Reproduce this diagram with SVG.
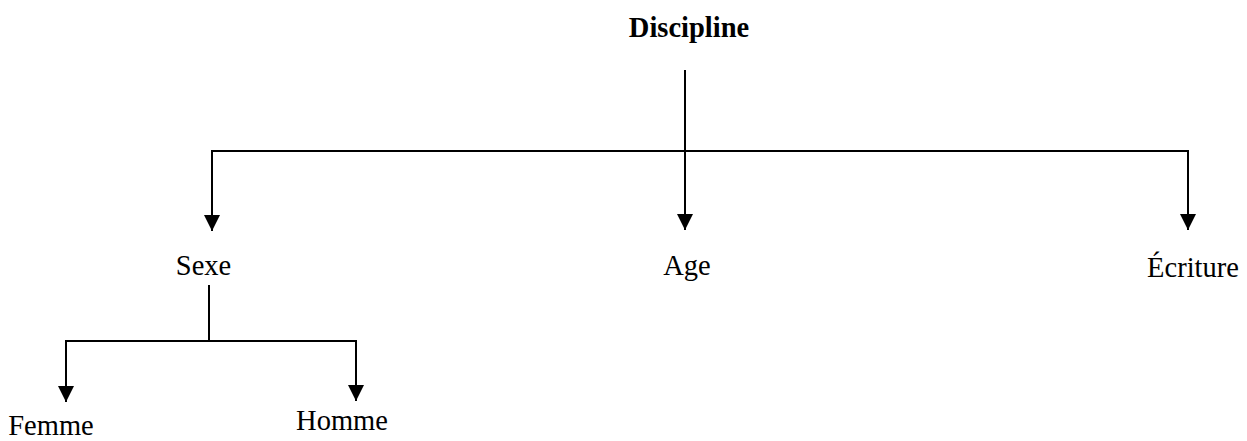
<svg xmlns="http://www.w3.org/2000/svg" width="1247" height="441" viewBox="0 0 1247 441">
  <style>
    .lbl { font-family: "Liberation Serif", "Times New Roman", serif; font-size: 28.5px; fill: #000; text-anchor: middle; }
    .bold { font-weight: bold; }
    .conn { stroke: #000; stroke-width: 2; fill: none; }
    .arr { marker-end: url(#ah); }
  </style>
  <defs>
    <marker id="ah" markerUnits="userSpaceOnUse" markerWidth="16" markerHeight="16" refX="16" refY="8" orient="auto" viewBox="0 0 16 16">
      <path d="M0,0 L16,8 L0,16 z" fill="#000"/>
    </marker>
  </defs>
  <rect width="1247" height="441" fill="#fff"/>
  <g id="connectors">
    <line class="conn arr" x1="685" y1="70" x2="685" y2="230"/>
    <line class="conn" x1="212" y1="151" x2="1188" y2="151"/>
    <line class="conn arr" x1="212" y1="150" x2="212" y2="231"/>
    <line class="conn arr" x1="1188" y1="150" x2="1188" y2="230"/>
    <line class="conn" x1="209" y1="285" x2="209" y2="341"/>
    <line class="conn" x1="66" y1="341" x2="356" y2="341"/>
    <line class="conn arr" x1="66" y1="340" x2="66" y2="402"/>
    <line class="conn arr" x1="356" y1="340" x2="356" y2="401"/>
  </g>
  <g id="node-discipline"><text class="lbl bold" x="689" y="37">Discipline</text></g>
  <g id="node-sexe"><text class="lbl" x="203.5" y="275">Sexe</text></g>
  <g id="node-age"><text class="lbl" x="687" y="275">Age</text></g>
  <g id="node-ecriture"><text class="lbl" x="1193" y="277">Écriture</text></g>
  <g id="node-femme"><text class="lbl" x="51" y="435">Femme</text></g>
  <g id="node-homme"><text class="lbl" x="342" y="430">Homme</text></g>
</svg>
